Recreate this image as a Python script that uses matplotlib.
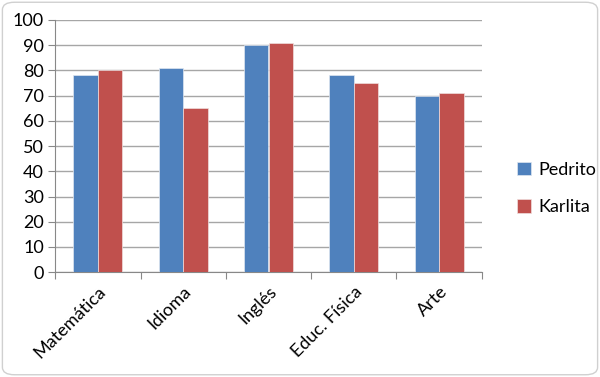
import numpy as np
import matplotlib.pyplot as plt
from matplotlib.patches import FancyBboxPatch

# data
materias = ["Matemática", "Idioma", "Inglés", "Educ. Física", "Arte"]
pedrito = [78, 81, 90, 78, 70]
karlita = [80, 65, 91, 75, 71]

plt.rcParams['font.family'] = ['Lato', 'DejaVu Sans']

fig = plt.figure(figsize=(6, 3.77), dpi=100)

# rounded frame around the whole chart
frame = FancyBboxPatch((0.004, 0.006), 0.992, 0.988, boxstyle="round,pad=0,rounding_size=0.02",
                       transform=fig.transFigure, facecolor="white", edgecolor="#d0d0d0",
                       linewidth=1, zorder=-10)
fig.patches.append(frame)

ax = fig.add_axes([0.092, 0.278, 0.711, 0.669])
ax.set_facecolor("none")
ax.set_zorder(5)

x = np.arange(len(materias))
w = 0.287
ax.bar(x - w / 2, pedrito, w, color="#4F81BD", edgecolor="#dfe6f0", linewidth=0.5, label="Pedrito", zorder=3)
ax.bar(x + w / 2, karlita, w, color="#C0504D", edgecolor="#f0dede", linewidth=0.5, label="Karlita", zorder=3)

ax.set_xlim(-0.5, len(materias) - 0.5)
ax.set_ylim(0, 100)
ax.set_yticks(range(0, 101, 10))
ax.yaxis.grid(True, color="#a6a6a6", linewidth=1, zorder=0)

# ticks between categories, labels centred under the groups
ax.set_xticks(np.arange(-0.5, len(materias), 1.0), minor=False)
ax.set_xticklabels([])
ax.set_xticks(x, minor=True)
ax.set_xticklabels(materias, minor=True, rotation=45, ha="right", va="top", rotation_mode="anchor", fontsize=13)
ax.tick_params(axis="x", which="minor", length=0, pad=8)
ax.tick_params(axis="x", which="major", length=5, color="#888888")
ax.tick_params(axis="y", length=5, color="#888888", labelsize=13, pad=3)

for s in ["top", "right"]:
    ax.spines[s].set_visible(False)
ax.spines["left"].set_color("#888888")
ax.spines["bottom"].set_color("#888888")

ax.legend(loc="center left", bbox_to_anchor=(0.835, 0.5), bbox_transform=fig.transFigure,
          frameon=False, fontsize=13, handlelength=0.75, handleheight=0.75,
          labelspacing=1.2, handletextpad=0.4)

fig.savefig("out.png", dpi=100)
